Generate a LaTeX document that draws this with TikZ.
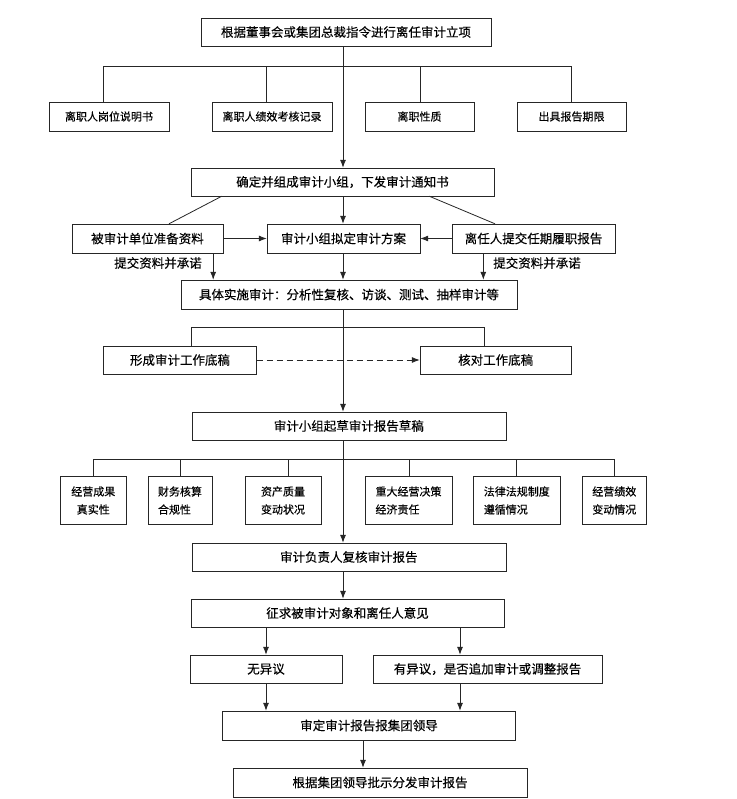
\documentclass[tikz,border=0pt]{standalone}
\usepackage{fontspec}
\setmainfont{Noto Sans CJK SC}[FakeBold=0.3]
\usetikzlibrary{arrows.meta}

\tikzstyle{flowbox}=[draw=black!85,fill=white,rectangle,minimum height=28pt,inner sep=0pt,font=\fontsize{12.5}{14}\selectfont]
\tikzstyle{docbox}=[draw=black!85,fill=white,rectangle,minimum height=29pt,inner sep=0pt,font=\fontsize{11}{13}\selectfont]
\tikzstyle{aspectbox}=[draw=black!85,fill=white,rectangle,minimum height=48pt,inner sep=0pt,font=\fontsize{11}{18}\selectfont]
\tikzstyle{notetext}=[inner sep=0pt,font=\fontsize{12.5}{14}\selectfont]

\begin{document}
\begin{tikzpicture}[x=1pt,y=-1pt]
			\fill[white] (0,0) rectangle (736,799);
			\useasboundingbox (0,0) rectangle (736,799);
			\begin{scope}[>={Latex[length=8pt,width=6pt]},every path/.style={draw=black!85}]
				\coordinate (axis) at (343,0);
				\node (start)[flowbox,minimum width=290pt] at (346,32) {根据董事会或集团总裁指令进行离任审计立项};

				\coordinate (bar1) at (343,66);
				\foreach \nm/\x/\w/\dx/\txt in {doc1/109/120/-5.5/离职人岗位说明书, doc2/272/120/-5.4/离职人绩效考核记录, doc3/419.5/109/0.5/离职性质, doc4/571.5/109/0/出具报告期限}{
					\node (\nm)[docbox,minimum width=\w pt] at (\x,116.5) {\txt};
					\coordinate (\nm top) at ([xshift=\dx pt]\nm.north);
					\draw[thick] (\nm top) -- (\nm top |- bar1);
				}
				\draw[thick] (doc1top |- bar1) -- (doc4top |- bar1);

				\node (team)[flowbox,minimum width=303pt] at (342.5,182) {确定并组成审计小组，下发审计通知书};
				\draw[->,thick] (start.south -| axis) -- (team.north -| axis);

				\node (prep)[flowbox,minimum width=151pt,minimum height=29pt] at (147.5,238.5) {被审计单位准备资料};
				\node (plan)[flowbox,minimum width=153pt,minimum height=29pt] at (343.5,238.5) {审计小组拟定审计方案};
				\node (duty)[flowbox,minimum width=163pt,minimum height=29pt] at (533.5,238.5) {离任人提交任期履职报告};
				\draw[thick] ([xshift=31pt]team.south west) -- ([xshift=21.5pt]prep.north);
				\draw[thick] ([xshift=-65pt]team.south east) -- ([xshift=-38.5pt]duty.north);
				\draw[->,thick] (team.south -| axis) -- (plan.north -| axis);
				\draw[->,thick] (prep) -- (plan);
				\draw[->,thick] (duty) -- (plan);

				\node (audit)[flowbox,minimum width=336pt,minimum height=29pt] at (349,294.5) {具体实施审计：分析性复核、访谈、测试、抽样审计等};
				\coordinate (prepout) at ([xshift=-10pt]prep.south east);
				\coordinate (dutyout) at ([xshift=31.5pt]duty.south west);
				\draw[->,thick] (prepout) -- (prepout |- audit.north);
				\draw[->,thick] (plan.south -| axis) -- (audit.north -| axis);
				\draw[->,thick] (dutyout) -- (dutyout |- audit.north);
				\node (promL)[notetext] at (158,263) {提交资料并承诺};
				\node (promR)[notetext] at (537,263) {提交资料并承诺};

				\node (paper)[flowbox,minimum width=153pt] at (180,360) {形成审计工作底稿};
				\node (check)[flowbox,minimum width=151.5pt] at (495.7,360) {核对工作底稿};
				\coordinate (bar2) at (343,327.5);
				\draw[thick] ([xshift=11.6pt]paper.north) |- (bar2) -| ([xshift=-11.7pt]check.north);
				\draw[->,thick,dash pattern=on 6pt off 4pt] (paper) -- (check);

				\node (draft)[flowbox,minimum width=314pt] at (348.8,426) {审计小组起草审计报告草稿};
				\draw[->,thick] (audit.south -| axis) -- (draft.north -| axis);

				\coordinate (bar3) at (343,459);
				\foreach \nm/\x/\w/\dx/\al/\txt in {asp1/93.3/65.5/0/center/{经营成果\\真实性}, asp2/180/64/0.6/left/{财务核算\\合规性}, asp3/283/76/5.8/left/{资产质量\\变动状况}, asp4/408.5/87/0.4/left/{重大经营决策\\经济责任}, asp5/516.8/87.5/0/left/{法律法规制度\\遵循情况}, asp6/614.3/64.6/0.3/left/{经营绩效\\变动情况}}{
					\node (\nm)[aspectbox,minimum width=\w pt,align=\al] at (\x,500.5) {\txt};
					\coordinate (\nm top) at ([xshift=\dx pt]\nm.north);
					\draw[thick] (\nm top) -- (\nm top |- bar3);
				}
				\draw[thick] (asp1top |- bar3) -- (asp6top |- bar3);

				\node (review)[flowbox,minimum width=314pt] at (348.8,557) {审计负责人复核审计报告};
				\draw[->,thick] (draft.south -| axis) -- (review.north -| axis);
				\node (opinion)[flowbox,minimum width=313pt] at (347.5,613) {征求被审计对象和离任人意见};
				\draw[->,thick] (review.south -| axis) -- (opinion.north -| axis);

				\coordinate (branch) at (460,0);
				\node (agree)[flowbox,minimum width=152pt] at (266,669) {无异议};
				\node (dispute)[flowbox,minimum width=229pt] at (487.5,669) {有异议，是否追加审计或调整报告};
				\draw[->,thick] (opinion.south -| agree) -- (agree.north);
				\draw[->,thick] (opinion.south -| branch) -- (dispute.north -| branch);

				\node (approve)[flowbox,minimum width=293pt,minimum height=29pt] at (369,725.5) {审定审计报告报集团领导};
				\draw[->,thick] (agree.south) -- (approve.north -| agree);
				\draw[->,thick] (dispute.south -| branch) -- (approve.north -| branch);

				\coordinate (last) at (363,0);
				\node (issue)[flowbox,minimum width=294pt,minimum height=29pt] at (380,782.5) {根据集团领导批示分发审计报告};
				\draw[->,thick] (approve.south -| last) -- (issue.north -| last);
			\end{scope}
		\end{tikzpicture}
\end{document}
